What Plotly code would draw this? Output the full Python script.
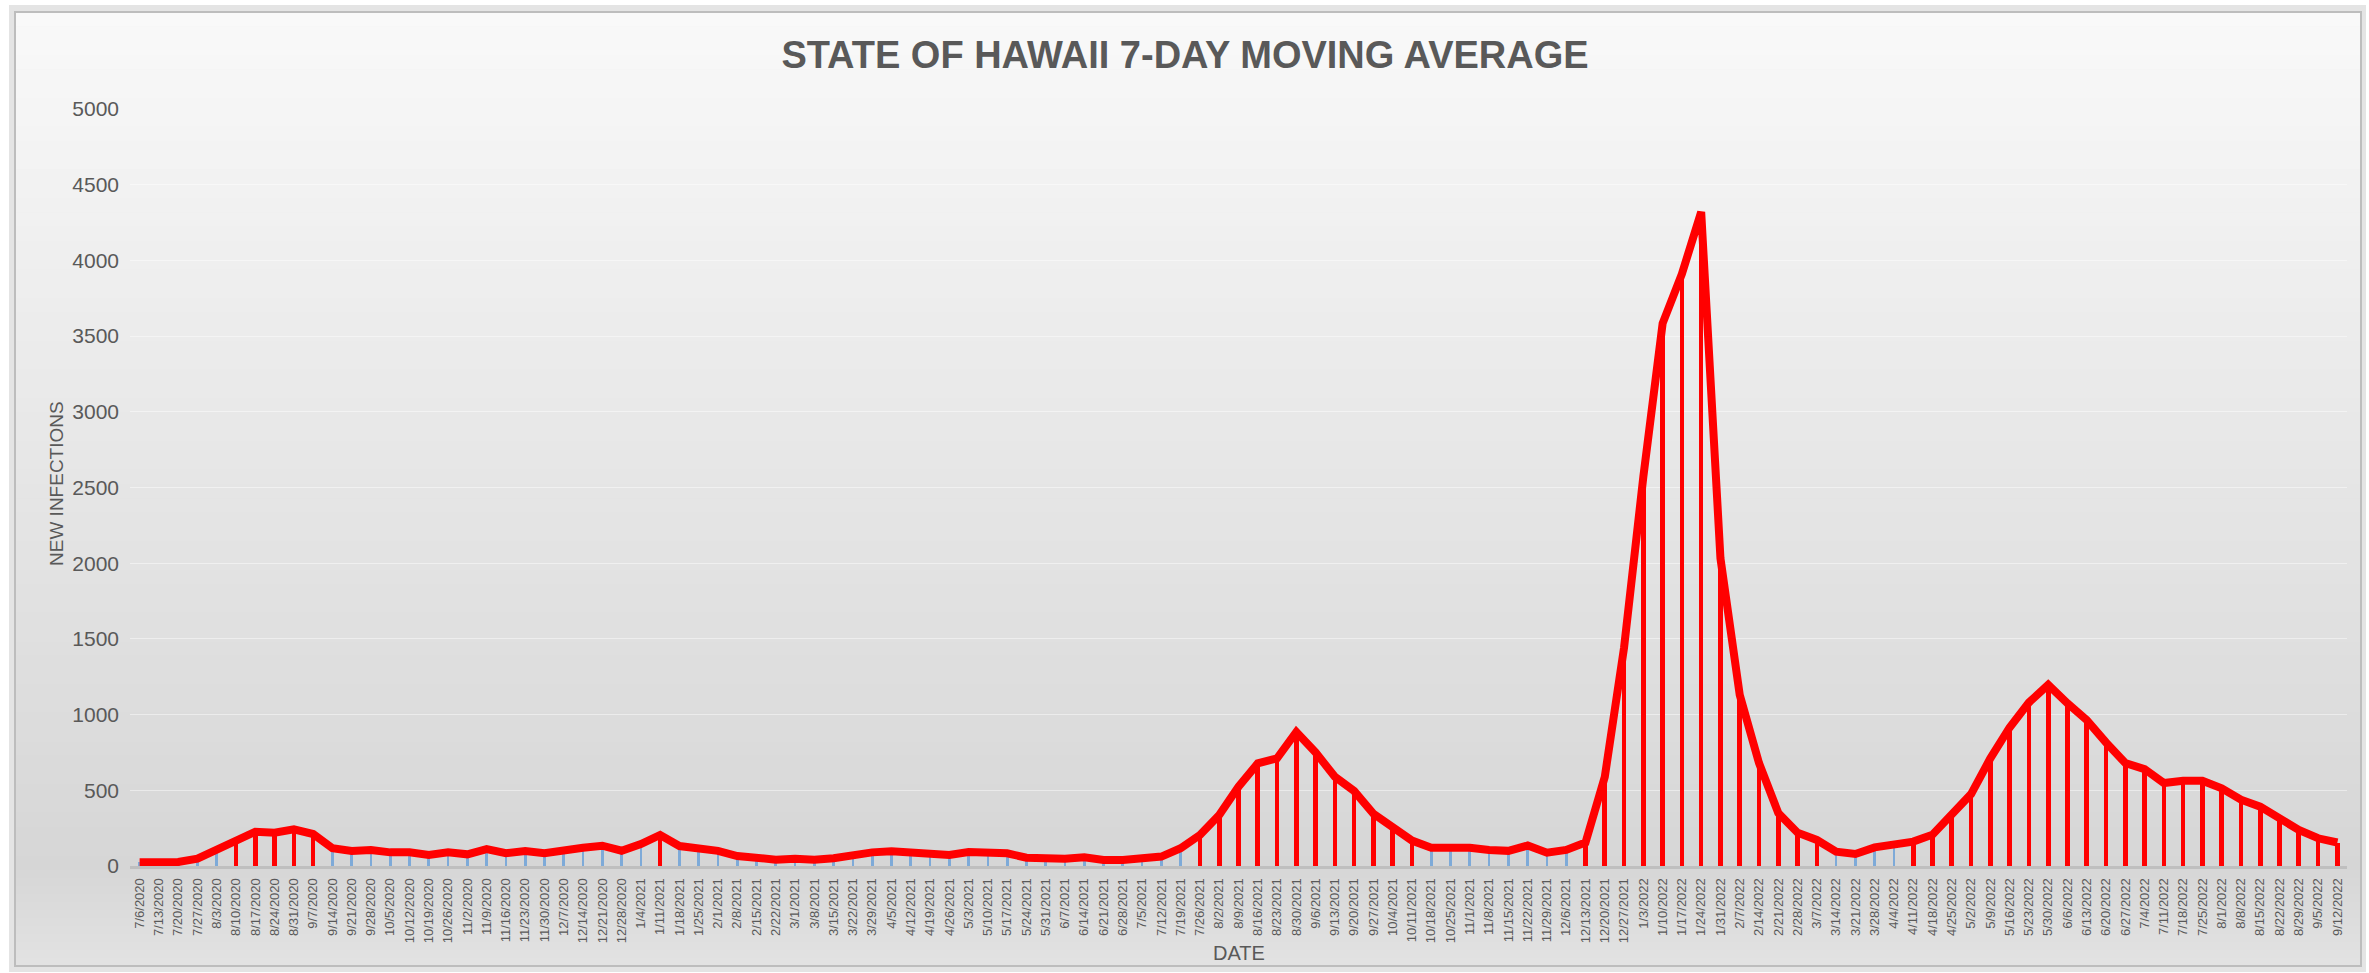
import plotly.graph_objects as go

dates = [
    "7/6/2020", "7/13/2020", "7/20/2020", "7/27/2020", "8/3/2020", "8/10/2020", "8/17/2020", "8/24/2020",
    "8/31/2020", "9/7/2020", "9/14/2020", "9/21/2020", "9/28/2020", "10/5/2020", "10/12/2020", "10/19/2020",
    "10/26/2020", "11/2/2020", "11/9/2020", "11/16/2020", "11/23/2020", "11/30/2020", "12/7/2020", "12/14/2020",
    "12/21/2020", "12/28/2020", "1/4/2021", "1/11/2021", "1/18/2021", "1/25/2021", "2/1/2021", "2/8/2021",
    "2/15/2021", "2/22/2021", "3/1/2021", "3/8/2021", "3/15/2021", "3/22/2021", "3/29/2021", "4/5/2021",
    "4/12/2021", "4/19/2021", "4/26/2021", "5/3/2021", "5/10/2021", "5/17/2021", "5/24/2021", "5/31/2021",
    "6/7/2021", "6/14/2021", "6/21/2021", "6/28/2021", "7/5/2021", "7/12/2021", "7/19/2021", "7/26/2021",
    "8/2/2021", "8/9/2021", "8/16/2021", "8/23/2021", "8/30/2021", "9/6/2021", "9/13/2021", "9/20/2021",
    "9/27/2021", "10/4/2021", "10/11/2021", "10/18/2021", "10/25/2021", "11/1/2021", "11/8/2021", "11/15/2021",
    "11/22/2021", "11/29/2021", "12/6/2021", "12/13/2021", "12/20/2021", "12/27/2021", "1/3/2022", "1/10/2022",
    "1/17/2022", "1/24/2022", "1/31/2022", "2/7/2022", "2/14/2022", "2/21/2022", "2/28/2022", "3/7/2022",
    "3/14/2022", "3/21/2022", "3/28/2022", "4/4/2022", "4/11/2022", "4/18/2022", "4/25/2022", "5/2/2022",
    "5/9/2022", "5/16/2022", "5/23/2022", "5/30/2022", "6/6/2022", "6/13/2022", "6/20/2022", "6/27/2022",
    "7/4/2022", "7/11/2022", "7/18/2022", "7/25/2022", "8/1/2022", "8/8/2022", "8/15/2022", "8/22/2022",
    "8/29/2022", "9/5/2022", "9/12/2022",
]

new_infections = [
    25, 28, 27, 48, 110, 165, 226, 220, 242, 211, 117, 99, 106, 90, 90, 73,
    90, 77, 112, 84, 99, 84, 106, 121, 134, 101, 145, 205, 132, 112, 100, 66,
    48, 42, 48, 42, 51, 75, 90, 97, 88, 79, 73, 92, 84, 84, 55, 48,
    48, 57, 40, 40, 46, 62, 117, 205, 337, 524, 678, 711, 885, 750,
    589, 495, 345, 259, 168, 121, 127, 121, 106, 100, 135, 88, 106, 155,
    589, 1443, 2571, 3584, 3911, 4320, 2032, 1130, 680, 350, 220, 172,
    95, 79, 123, 139, 161, 207, 350, 475, 711, 915, 1080, 1197, 1074, 964,
    816, 680, 640, 548, 563, 563, 513, 438, 392, 310, 238, 183, 155,
]

y_ticks = [0, 500, 1000, 1500, 2000, 2500, 3000, 3500, 4000, 4500, 5000]

THRESHOLD = 150
RED = "#FF0000"
BLUE = "#7EAAD8"
bar_colors = [RED if v > THRESHOLD else BLUE for v in new_infections]
bar_widths = [0.24 if v > THRESHOLD else 0.14 for v in new_infections]

W, H = 2369, 973
L, R, T, B = 130, 22, 109, 107
PW, PH = W - L - R, H - T - B


def px_x(X):
    return (X - L) / PW


def px_y(Y):
    return (H - B - Y) / PH


def lerp(c1, c2, t):
    return tuple(int(round(a + (b - a) * t)) for a, b in zip(c1, c2))


fig = go.Figure()

fig.add_trace(go.Bar(
    x=dates, y=new_infections,
    marker=dict(color=bar_colors, line=dict(width=0)),
    width=bar_widths,
    hoverinfo="skip", showlegend=False,
))

fig.add_trace(go.Scatter(
    x=dates, y=new_infections, mode="lines",
    line=dict(color=RED, width=8),
    showlegend=False,
))

shapes = []
shapes.append(dict(type="rect", xref="paper", yref="paper", layer="below",
                   x0=px_x(9), x1=px_x(2366), y0=px_y(972), y1=px_y(5),
                   fillcolor="#E4E4E4", line=dict(width=0)))
top, mid, bot = 12, 870, 966
c_top, c_mid, c_bot = (249, 249, 249), (214, 214, 214), (227, 227, 227)
n = 60
for i in range(n):
    y0 = top + (mid - top) * i / n
    y1 = top + (mid - top) * (i + 1) / n
    c = lerp(c_top, c_mid, (i + 0.5) / n)
    shapes.append(dict(type="rect", xref="paper", yref="paper", layer="below",
                       x0=px_x(15), x1=px_x(2361), y0=px_y(y1 + 0.5), y1=px_y(y0),
                       fillcolor="rgb(%d,%d,%d)" % c, line=dict(width=0)))
m = 12
for i in range(m):
    y0 = mid + (bot - mid) * i / m
    y1 = mid + (bot - mid) * (i + 1) / m
    c = lerp(c_mid, c_bot, (i + 0.5) / m)
    shapes.append(dict(type="rect", xref="paper", yref="paper", layer="below",
                       x0=px_x(15), x1=px_x(2361), y0=px_y(y1 + 0.5), y1=px_y(y0),
                       fillcolor="rgb(%d,%d,%d)" % c, line=dict(width=0)))
shapes.append(dict(type="rect", xref="paper", yref="paper", layer="below",
                   x0=px_x(15), x1=px_x(2361), y0=px_y(966), y1=px_y(12),
                   fillcolor="rgba(0,0,0,0)", line=dict(color="#BDBDBD", width=2)))

GRAY = "#595959"
FONT = "Liberation Sans, Arial"

annotations = [
    dict(text="NEW INFECTIONS", xref="paper", yref="paper",
         x=px_x(56), y=px_y(484), xanchor="center", yanchor="middle",
         textangle=-90, showarrow=False,
         font=dict(family=FONT, size=19, color=GRAY)),
    dict(text="DATE", xref="paper", yref="paper",
         x=px_x(1239), y=px_y(953), xanchor="center", yanchor="middle",
         showarrow=False,
         font=dict(family=FONT, size=20, color=GRAY)),
]

fig.update_layout(
    width=W, height=H,
    margin=dict(l=L, r=R, t=T, b=B, pad=0),
    paper_bgcolor="white",
    plot_bgcolor="rgba(0,0,0,0)",
    shapes=shapes,
    annotations=annotations,
    bargap=0,
    title=dict(
        text="<b>STATE OF HAWAII 7-DAY MOVING AVERAGE</b>",
        x=1185 / W, xanchor="center", y=1 - 55 / H, yanchor="middle",
        font=dict(family=FONT, size=38, color=GRAY),
    ),
    xaxis=dict(
        type="category",
        categoryorder="array", categoryarray=dates,
        range=[-0.5, len(dates) - 0.5],
        tickmode="array", tickvals=dates, ticktext=dates,
        tickangle=-90,
        tickfont=dict(family=FONT, size=13, color=GRAY),
        showgrid=False,
        showline=True, linecolor="#BFBFBF", linewidth=3,
        ticks="", ticklabelstandoff=4,
        fixedrange=True,
    ),
    yaxis=dict(
        range=[0, 5000],
        tickmode="array", tickvals=y_ticks,
        tickfont=dict(family=FONT, size=21, color=GRAY),
        showgrid=True, gridcolor="rgba(255,255,255,0.45)", gridwidth=1,
        zeroline=False, showline=False,
        ticks="", ticklabelstandoff=10,
        fixedrange=True,
    ),
)

fig.write_html(
    "out.html",
    config={"displayModeBar": False},
    post_script="document.body.style.margin='0';document.body.style.overflow='hidden';",
)
